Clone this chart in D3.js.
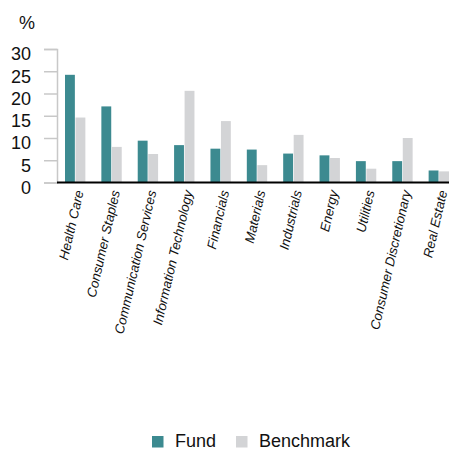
<!DOCTYPE html>
<html><head><meta charset="utf-8">
<script src="https://cdn.jsdelivr.net/npm/d3@7"></script>
<style>
body{margin:0;background:#fff;}
svg{display:block;font-family:"Liberation Sans",Arial,Helvetica,sans-serif;}
</style></head>
<body>
<script>
const categories = ["Health Care","Consumer Staples","Communication Services","Information Technology","Financials","Materials","Industrials","Energy","Utilities","Consumer Discretionary","Real Estate"];
const fundValues = [24.2,17.1,9.4,8.4,7.6,7.4,6.5,6.1,4.8,4.8,2.7];
const benchmarkValues = [14.6,8.0,6.4,20.6,13.8,3.9,10.7,5.5,3.1,10.0,2.5];
const yTicks = [0,5,10,15,20,25,30];
const seriesNames = ["Fund","Benchmark"];
const seriesColors = ["#3c8a90","#d3d4d6"];

const W = 449, H = 450;
const svg = d3.select("body").append("svg").attr("width", W).attr("height", H);

const x0 = 57, xEnd = 457, yTop = 49, yBase = 182.5;
const x = d3.scaleBand().domain(categories).range([x0, xEnd]).paddingInner(0.44).paddingOuter(0.22);
const xs = d3.scaleBand().domain(seriesNames).range([0, x.bandwidth()]).paddingInner(0.06);
const y = d3.scaleLinear().domain([0, 30]).range([yBase, yTop]);

// y axis
const yAxis = svg.append("g").attr("transform", `translate(${x0},0)`)
  .call(d3.axisLeft(y).tickValues(yTicks).tickSize(13).tickPadding(13));
yAxis.select(".domain").attr("stroke", "#c8c8c8").attr("stroke-width", 1.5);
yAxis.selectAll(".tick line").attr("stroke", "#c8c8c8").attr("stroke-width", 1.5);
yAxis.selectAll(".tick text").attr("font-size", 18).attr("fill", "#111").attr("dy", "0.6em")
  .attr("font-family", "Liberation Sans, Arial, sans-serif");

svg.append("text").attr("x", 19).attr("y", 29).attr("font-size", 18).attr("fill", "#111").text("%");

// bars
const data = categories.map((c, i) => ({c, vals: [fundValues[i], benchmarkValues[i]]}));
const groups = svg.append("g").selectAll("g").data(data).join("g")
  .attr("transform", d => `translate(${x(d.c)},0)`);
groups.selectAll("rect").data(d => d.vals.map((v, j) => ({v, s: seriesNames[j], j})))
  .join("rect")
  .attr("x", d => xs(d.s))
  .attr("width", xs.bandwidth())
  .attr("y", d => y(d.v))
  .attr("height", d => yBase - y(d.v))
  .attr("fill", d => seriesColors[d.j]);

// x axis
const xAxis = svg.append("g").attr("transform", `translate(0,${yBase})`)
  .call(d3.axisBottom(x).tickSize(0).tickPadding(0));
xAxis.select(".domain").attr("stroke", "#000").attr("stroke-width", 2).attr("d", `M${x0},0H${W}`);
xAxis.selectAll(".tick text")
  .attr("font-size", 13.3).attr("font-style", "italic").attr("fill", "#111")
  .attr("text-anchor", "end")
  .attr("transform", "translate(4,8) rotate(-77)")
  .attr("dy", "0.35em").attr("y", 0);

// legend
const legend = svg.append("g");
const legX = [152, 236];
seriesNames.forEach((s, i) => {
  legend.append("rect").attr("x", legX[i]).attr("y", 436).attr("width", 11.5).attr("height", 11.5).attr("fill", seriesColors[i]);
  legend.append("text").attr("x", legX[i] + 23).attr("y", 447).attr("font-size", 18).attr("fill", "#111").text(s);
});
</script>
</body></html>
